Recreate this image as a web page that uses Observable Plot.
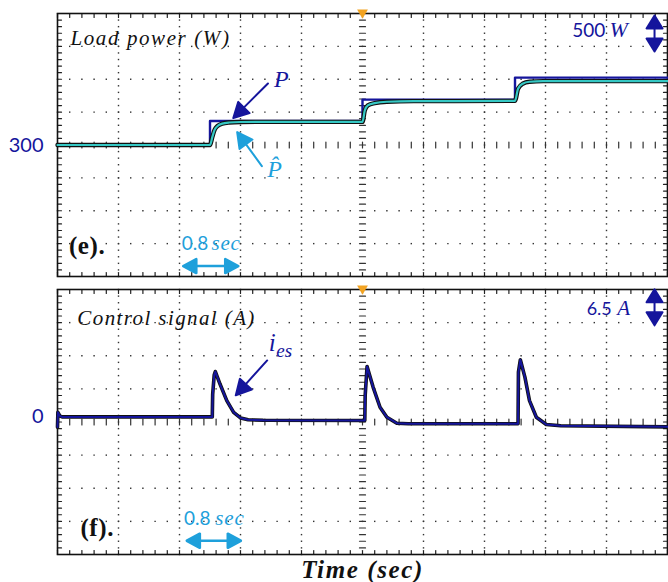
<!DOCTYPE html>
<html><head><meta charset="utf-8">
<script src="https://cdn.jsdelivr.net/npm/d3@7"></script>
<script src="https://cdn.jsdelivr.net/npm/@observablehq/plot@0.6"></script>
<style>
body{margin:0;background:#fff;}
#chart{width:668px;height:582px;overflow:hidden;background:#fff;}
#chart svg{display:block;}
</style></head><body><div id="chart"></div>
<script>
// ---------- data ----------
// Load power, reference step P (W)
const powerStepTimes  = [0, 2.0, 4.0, 6.0, 8.0];
const powerStepValues = [300, 665, 990, 1325, 1325];
// Load power, estimate P-hat (W)
const powerEstTimes  = [0, 2.0, 2.03, 2.06, 2.1, 2.16, 2.25, 2.4, 2.7, 4.0, 4.03, 4.07, 4.16, 4.32, 4.67, 5.2, 6.0, 6.04, 6.1, 6.19, 6.37, 6.7, 8.0];
const powerEstValues = [300, 300, 420, 530, 590, 625, 642, 650, 652, 652, 826, 902, 937, 958, 967, 968, 972, 1156, 1232, 1262, 1271, 1272, 1272];
// Control signal i_es (A)
const currentTimes  = [0, 0.005, 0.03, 0.06, 2.03, 2.035, 2.055, 2.07, 2.13, 2.22, 2.31, 2.4, 2.5, 2.7, 4.03, 4.035, 4.06, 4.14, 4.23, 4.32, 4.45, 4.6, 6.04, 6.045, 6.07, 6.13, 6.19, 6.28, 6.41, 6.6, 8.0];
const currentValues = [-1.0, 1.9, 1.2, 1.0, 1.0, 5.4, 9.2, 9.9, 7.5, 4.2, 1.9, 0.8, 0.43, 0.35, 0.3, 5.2, 10.9, 6.8, 2.9, 0.94, -0.24, -0.35, -0.35, 9.8, 12.2, 8.8, 4.2, 0.94, -0.5, -0.75, -0.95];
// axis tick labels
const powerTickLabels = [300];
const currentTickLabels = [0];
const timeDivision = 0.8;   // sec per division
const powerDivision = 500;  // W per division
const currentDivision = 6.5; // A per division

// ---------- styling ----------
const NAVY = "#15159c", CYAN = "#1ea0db", TRACE = "#35c8c4", ORANGE = "#f2a322", GRID = "#333";
const SERIF = "Liberation Serif, Times New Roman, serif";
const SANS = "Lato, Open Sans, sans-serif";

const lineShape = {draw(c, l) { c.moveTo(0, 0); c.lineTo(0, -l); }};
function arrowShape(h, w) {
  return {draw(c, l) {
    c.moveTo(0, 0); c.lineTo(0, -l + h * 0.8);
    c.moveTo(0, -l); c.lineTo(-w, -l + h); c.lineTo(w, -l + h); c.closePath();
  }};
}
function doubleArrowShape(h, w) {
  return {draw(c, l) {
    c.moveTo(0, -h * 0.8); c.lineTo(0, -l + h * 0.8);
    c.moveTo(0, 0); c.lineTo(-w, -h); c.lineTo(w, -h); c.closePath();
    c.moveTo(0, -l); c.lineTo(-w, -l + h); c.lineTo(w, -l + h); c.closePath();
  }};
}

function graticule(center, div) {
  const xMajor = d3.range(1, 10).map(i => i * timeDivision);
  const xMinor = d3.range(0, 51).map(i => i * timeDivision / 5);
  const yMajor = d3.range(-3, 4).map(i => center + i * div);
  const yMinor = d3.range(-20, 21).map(i => center + i * div / 5);
  const yTop = center + 4 * div, yBot = center - 4 * div, xC = 5 * timeDivision;
  const vDots = xMajor.filter(x => x !== xC).flatMap(x => yMinor.map(y => ({x, y})));
  const hDots = yMajor.filter(y => y !== center).flatMap(y => xMinor.map(x => ({x, y})));
  return [
    Plot.dot(vDots.concat(hDots), {x: "x", y: "y", symbol: "square", r: 0.8, fill: GRID}),
    Plot.vector(yMinor, {x: xC, y: d => d, rotate: 90, length: 6, anchor: "middle", shape: lineShape, stroke: GRID, strokeWidth: 1.2}),
    Plot.vector(xMinor, {x: d => d, y: center, rotate: 0, length: 6, anchor: "middle", shape: lineShape, stroke: GRID, strokeWidth: 1.2}),
    Plot.vector(yMinor, {x: 0, y: d => d, rotate: 90, length: 4, anchor: "start", shape: lineShape, stroke: "#222", strokeWidth: 1.2}),
    Plot.vector(yMinor, {x: 10 * timeDivision, y: d => d, rotate: 270, length: 4, anchor: "start", shape: lineShape, stroke: "#222", strokeWidth: 1.2}),
    Plot.vector(xMinor, {x: d => d, y: yTop, rotate: 180, length: 4, anchor: "start", shape: lineShape, stroke: "#222", strokeWidth: 1.2}),
    Plot.vector(xMinor, {x: d => d, y: yBot, rotate: 0, length: 4, anchor: "start", shape: lineShape, stroke: "#222", strokeWidth: 1.2}),
    Plot.frame({stroke: "#111", strokeWidth: 1.6}),
    Plot.dot([xC], {x: d => d, y: yTop, symbol: "triangle", rotate: 180, r: 4, fill: ORANGE, dy: -1})
  ];
}

const powerStep = powerStepTimes.map((t, i) => ({t, v: powerStepValues[i]}));
const powerEst = powerEstTimes.map((t, i) => ({t, v: powerEstValues[i]}));
const current = currentTimes.map((t, i) => ({t, v: currentValues[i]}));

const label = (txt, x, y, o) => Plot.text([txt], {x, y, text: d => d, textAnchor: "start", lineAnchor: "bottom", ...o});

const pc = 300; // center of power graticule
const topPlot = Plot.plot({
  width: 668, height: 283, marginLeft: 57, marginRight: 1, marginTop: 13, marginBottom: 7,
  x: {domain: [0, 10 * timeDivision], axis: null},
  y: {domain: [pc - 4 * powerDivision, pc + 4 * powerDivision], axis: null},
  style: {fontFamily: SERIF, background: "white", overflow: "visible"},
  marks: [
    ...graticule(pc, powerDivision),
    Plot.line(powerStep, {x: "t", y: "v", curve: "step-after", stroke: NAVY, strokeWidth: 2.4}),
    Plot.line(powerEst, {x: "t", y: "v", curve: "monotone-x", stroke: "#111", strokeWidth: 4.4}),
    Plot.line(powerEst, {x: "t", y: "v", curve: "monotone-x", stroke: TRACE, strokeWidth: 2.2}),
    Plot.text(powerTickLabels, {y: d => d, frameAnchor: "left", dx: -14, dy: 1, textAnchor: "end", text: d => String(d), fill: NAVY, fontFamily: SANS, fontSize: 20}),
    label("Load power (W)", 0.17, 1814, {fontStyle: "italic", fontSize: 21, fill: "#111"}),
    label("(e).", 0.15, -1363, {fontWeight: "bold", fontSize: 25, fill: "#111"}),
    label("0.8", 1.63, -1302, {fontFamily: SANS, fontSize: 19, fill: CYAN}),
    label("sec", 2.02, -1302, {fontStyle: "italic", fontSize: 21, fill: CYAN}),
    Plot.vector([0], {x: 2.01, y: -1541, rotate: 90, length: 55, anchor: "middle", shape: doubleArrowShape(13, 7), fill: CYAN, stroke: CYAN, strokeWidth: 2.6}),
    label("P", 2.84, 1175, {fontStyle: "italic", fontSize: 24, fill: NAVY}),
    Plot.vector([0], {x: 2.76, y: 1236, rotate: 225, length: 49, anchor: "start", shape: arrowShape(15, 8), fill: NAVY, stroke: NAVY, strokeWidth: 2}),
    label("P\u0302", 2.75, -192, {fontStyle: "italic", fontSize: 24, fill: CYAN}),
    Plot.vector([0], {x: 2.68, y: -21, rotate: 324, length: 42, anchor: "start", shape: arrowShape(15, 8), fill: CYAN, stroke: CYAN, strokeWidth: 2}),
    label("500", 6.75, 1940, {fontFamily: SANS, fontSize: 19, fill: NAVY}),
    label("W", 7.24, 1940, {fontStyle: "italic", fontSize: 22, fill: NAVY}),
    Plot.vector([0], {x: 7.83, y: 1996, rotate: 0, length: 36, anchor: "middle", shape: doubleArrowShape(13, 8), fill: NAVY, stroke: NAVY, strokeWidth: 2})
  ]
});

const cc = 0; // center of current graticule
const bottomPlot = Plot.plot({
  width: 668, height: 299, marginLeft: 57, marginRight: 1, marginTop: 6, marginBottom: 28,
  x: {domain: [0, 10 * timeDivision], axis: null},
  y: {domain: [cc - 4 * currentDivision, cc + 4 * currentDivision], axis: null},
  style: {fontFamily: SERIF, background: "white", overflow: "visible"},
  marks: [
    ...graticule(cc, currentDivision),
    Plot.line(current, {x: "t", y: "v", stroke: "#111", strokeWidth: 3.6}),
    Plot.line(current, {x: "t", y: "v", stroke: NAVY, strokeWidth: 2}),
    Plot.text(currentTickLabels, {y: d => d, frameAnchor: "left", dx: -14, dy: -5, textAnchor: "end", text: d => String(d), fill: NAVY, fontFamily: SANS, fontSize: 20}),
    label("Control signal (A)", 0.26, 18.95, {fontStyle: "italic", fontSize: 21, fill: "#111"}),
    label("(f).", 0.3, -22.3, {fontWeight: "bold", fontSize: 25, fill: "#111"}),
    label("0.8", 1.66, -20.3, {fontFamily: SANS, fontSize: 19, fill: CYAN}),
    label("sec", 2.07, -20.3, {fontStyle: "italic", fontSize: 21, fill: CYAN}),
    Plot.vector([0], {x: 2.05, y: -23.3, rotate: 90, length: 54, anchor: "middle", shape: doubleArrowShape(13, 7), fill: CYAN, stroke: CYAN, strokeWidth: 2.6}),
    label("i", 2.77, 13.85, {fontStyle: "italic", fontSize: 25, fill: NAVY}),
    label("es", 2.87, 12.67, {fontStyle: "italic", fontSize: 19, fill: NAVY}),
    Plot.vector([0], {x: 2.75, y: 12.08, rotate: 222, length: 47, anchor: "start", shape: arrowShape(15, 8), fill: NAVY, stroke: NAVY, strokeWidth: 2}),
    label("6.5", 6.94, 20.9, {fontFamily: SANS, fontSize: 18, fill: NAVY}),
    label("A", 7.34, 20.9, {fontStyle: "italic", fontSize: 21, fill: NAVY}),
    Plot.vector([0], {x: 7.83, y: 22.5, rotate: 0, length: 36, anchor: "middle", shape: doubleArrowShape(13, 8), fill: NAVY, stroke: NAVY, strokeWidth: 2}),
    Plot.text(["Time (sec)"], {x: 5 * timeDivision, frameAnchor: "bottom", dy: 23, text: d => d, lineAnchor: "bottom", fontStyle: "italic", fontWeight: "bold", fontSize: 25, fill: "#111"})
  ]
});

// letter spacing for the wide serif labels
const spacing = {"Load power (W)": 1.6, "Control signal (A)": 1.4, "Time (sec)": 1.6, "(e).": 0.6, "(f).": 0.6, "sec": 0.8};
for (const svg of [topPlot, bottomPlot]) {
  d3.select(svg).selectAll("text").each(function() {
    const s = spacing[this.textContent];
    if (s != null) this.setAttribute("letter-spacing", s);
  });
}

const root = document.getElementById("chart");
root.appendChild(topPlot);
root.appendChild(bottomPlot);
</script></body></html>
